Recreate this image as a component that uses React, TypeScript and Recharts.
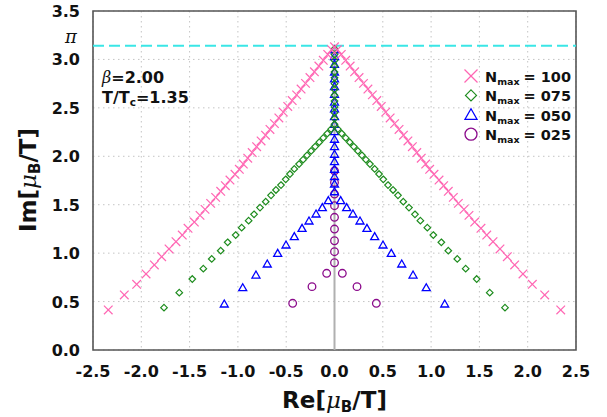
import {
  CartesianGrid,
  Legend,
  ReferenceArea,
  ReferenceLine,
  Scatter,
  ScatterChart,
  XAxis,
  YAxis,
} from 'recharts'

// tick values
const xTicks = [-2.5, -2, -1.5, -1, -0.5, 0, 0.5, 1, 1.5, 2, 2.5]
const yTicks = [0, 0.5, 1, 1.5, 2, 2.5, 3, 3.5]

// zeros on the two arms, [|Re|, Im]; each arm is drawn on both sides
const n100Arm = [
  [2.342, 0.413], [2.176, 0.568], [2.048, 0.678], [1.951, 0.785], [1.865, 0.878],
  [1.789, 0.963], [1.713, 1.043], [1.641, 1.118], [1.576, 1.187], [1.516, 1.256],
  [1.451, 1.321], [1.392, 1.39], [1.34, 1.452], [1.282, 1.514], [1.23, 1.576],
  [1.178, 1.638], [1.13, 1.696], [1.082, 1.755], [1.03, 1.814], [0.985, 1.866],
  [0.944, 1.92], [0.898, 1.98], [0.852, 2.039], [0.806, 2.099], [0.76, 2.158],
  [0.714, 2.218], [0.668, 2.277], [0.622, 2.337], [0.576, 2.396], [0.53, 2.456],
  [0.484, 2.515], [0.438, 2.575], [0.392, 2.634], [0.346, 2.694], [0.3, 2.753],
  [0.254, 2.813], [0.208, 2.872], [0.162, 2.932], [0.116, 2.991], [0.07, 3.051],
  [0.03, 3.1],
]
const n100Axis = [3.13]

const n075Arm = [
  [1.765, 0.437], [1.607, 0.592], [1.472, 0.733], [1.358, 0.84], [1.271, 0.94],
  [1.178, 1.025], [1.106, 1.112], [1.023, 1.187], [0.961, 1.263], [0.889, 1.335],
  [0.833, 1.401], [0.771, 1.47], [0.712, 1.531], [0.657, 1.597], [0.606, 1.652],
  [0.554, 1.703], [0.505, 1.762], [0.461, 1.817], [0.416, 1.869], [0.367, 1.92],
  [0.325, 1.965], [0.284, 2.01], [0.242, 2.055], [0.2, 2.1], [0.158, 2.145],
  [0.116, 2.19], [0.075, 2.235], [0.035, 2.28],
]
const n075Axis = [2.33, 2.39, 2.45, 2.51, 2.57, 2.63, 2.69, 2.75, 2.81, 2.87, 2.93, 2.99, 3.05, 3.11]

const n050Arm = [
  [1.141, 0.475], [0.95, 0.643], [0.813, 0.774], [0.696, 0.888], [0.588, 0.998],
  [0.502, 1.084], [0.416, 1.17], [0.336, 1.256], [0.264, 1.332], [0.191, 1.404],
  [0.126, 1.47], [0.064, 1.542],
]
const n050Axis = [
  1.634, 1.714, 1.789, 1.866, 1.945, 2.021, 2.099, 2.176, 2.254, 2.33,
  2.41, 2.49, 2.56, 2.64, 2.72, 2.8, 2.87, 2.95, 3.03, 3.1,
]

const n025Arm = [[0.433, 0.482], [0.233, 0.654], [0.081, 0.792]]
const n025Axis = [0.901, 1.015, 1.128, 1.249, 1.37, 1.49, 1.61, 1.73, 1.85]

const beta = '2.00'
const tOverTc = '1.35'

const PINK = '#ff66b3'
const GREEN = '#1e8c1e'
const BLUE = '#0000ff'
const PURPLE = '#8b0a8b'
const FONT = '"DejaVu Sans", sans-serif'
const SERIF = '"DejaVu Serif", serif'

const toPoints = (arm: number[][], axis: number[]) => [
  ...arm.map(([re, im]) => ({ re: -re, im })),
  ...arm.map(([re, im]) => ({ re, im })),
  ...axis.map((im) => ({ re: 0, im })),
]

const XMark = ({ cx, cy, s = 4.3 }: any) => (
  <g stroke={PINK} strokeWidth={1.2}>
    <line x1={cx - s} y1={cy - s} x2={cx + s} y2={cy + s} />
    <line x1={cx - s} y1={cy + s} x2={cx + s} y2={cy - s} />
  </g>
)
const Diamond = ({ cx, cy, s = 3.3 }: any) => (
  <path d={`M${cx},${cy - s}L${cx + s},${cy}L${cx},${cy + s}L${cx - s},${cy}Z`} fill="none" stroke={GREEN} strokeWidth={1.2} />
)
const Triangle = ({ cx, cy, s = 4 }: any) => (
  <path
    d={`M${cx},${cy - s}L${cx + s},${cy + s * 0.75}L${cx - s},${cy + s * 0.75}Z`}
    fill="none"
    stroke={BLUE}
    strokeWidth={1.3}
  />
)
const Circle = ({ cx, cy, s = 3.8 }: any) => <circle cx={cx} cy={cy} r={s} fill="none" stroke={PURPLE} strokeWidth={1.3} />

const series = [
  { label: '100', Shape: XMark, big: 6.5 },
  { label: '075', Shape: Diamond, big: 5.5 },
  { label: '050', Shape: Triangle, big: 6 },
  { label: '025', Shape: Circle, big: 6 },
]

function LegendBox() {
  return (
    <svg width={130} height={82} style={{ overflow: 'visible' }}>
      {series.map(({ label, Shape, big }, i) => {
        const y = 10 + i * 19.4
        return (
          <g key={label}>
            <Shape cx={9} cy={y} s={big} />
            <text x={23} y={y + 6} fontFamily={FONT} fontWeight="bold" fontSize={14.5} fill="#111">
              N
              <tspan fontSize={9.5} dy={3}>max</tspan>
              <tspan dy={-3} dx={4}>= {label}</tspan>
            </text>
          </g>
        )
      })}
    </svg>
  )
}

const MuTitle = ({ x, y, name, rotate }: any) => (
  <text
    x={x}
    y={y}
    transform={rotate ? `rotate(-90, ${x}, ${y})` : undefined}
    textAnchor="middle"
    fontFamily={FONT}
    fontWeight="bold"
    fontSize={23}
    fill="#111"
  >
    {name}[
    <tspan fontStyle="italic" fontFamily={SERIF} fontWeight="normal">μ</tspan>
    <tspan fontSize={15} dy={4}>B</tspan>
    <tspan dy={-4}>/T]</tspan>
  </text>
)

export default function App() {
  return (
    <div style={{ position: 'absolute', left: 0, top: 0, background: '#fff' }}>
      <ScatterChart width={607} height={417} margin={{ top: 11, right: 31, bottom: 0, left: 0 }}>
        <CartesianGrid stroke="#c4c4c4" strokeDasharray="1.5 3.5" />
        <XAxis
          type="number"
          dataKey="re"
          domain={[-2.5, 2.5]}
          ticks={xTicks}
          height={67}
          axisLine={false}
          tickLine={false}
          tickSize={0}
          tickMargin={0}
          interval={0}
          tick={({ x, y, payload }: any) => (
            <text x={x} y={y + 27} textAnchor="middle" fontFamily={FONT} fontWeight="bold" fontSize={16} fill="#111">
              {payload.value.toFixed(1)}
            </text>
          )}
          label={{
            content: ({ viewBox }: any) => <MuTitle x={viewBox.x + viewBox.width / 2} y={408} name="Re" />,
          }}
        />
        <YAxis
          type="number"
          dataKey="im"
          domain={[0, 3.5]}
          ticks={yTicks}
          width={93}
          axisLine={false}
          tickLine={false}
          tickSize={0}
          tickMargin={0}
          interval={0}
          tick={({ y, payload }: any) => (
            <text x={80} y={y + 6} textAnchor="end" fontFamily={FONT} fontWeight="bold" fontSize={16} fill="#111">
              {payload.value.toFixed(1)}
            </text>
          )}
          label={{ content: () => <MuTitle x={36} y={180} name="Im" rotate /> }}
        />
        <ReferenceLine segment={[{ x: 0, y: 0 }, { x: 0, y: Math.PI }]} stroke="#b0b0b0" strokeWidth={2} />
        <ReferenceLine
          y={Math.PI}
          stroke="#3ae6e6"
          strokeWidth={2}
          strokeDasharray="11 5"
          label={{
            content: ({ viewBox }: any) => (
              <text x={viewBox.x - 22} y={viewBox.y - 3} textAnchor="middle" fontFamily={SERIF} fontStyle="italic" fontSize={18} fill="#111">
                π
              </text>
            ),
          }}
        />
        <ReferenceArea
          x1={-2.5}
          x2={2.5}
          y1={0}
          y2={3.5}
          fill="none"
          stroke="#555"
          strokeWidth={1.6}
          label={{
            content: ({ viewBox }: any) => (
              <g fontFamily={FONT} fontWeight="bold" fontSize={16} fill="#111">
                <text x={viewBox.x + 9} y={83}>
                  <tspan fontStyle="italic" fontFamily={SERIF} fontWeight="normal">β</tspan>={beta}
                </text>
                <text x={viewBox.x + 9} y={103}>
                  T/T<tspan fontSize={10.5} dy={3}>c</tspan>
                  <tspan dy={-3}>={tOverTc}</tspan>
                </text>
              </g>
            ),
          }}
        />
        <Scatter data={toPoints(n025Arm, n025Axis)} shape={Circle} isAnimationActive={false} />
        <Scatter data={toPoints(n050Arm, n050Axis)} shape={Triangle} isAnimationActive={false} />
        <Scatter data={toPoints(n075Arm, n075Axis)} shape={Diamond} isAnimationActive={false} />
        <Scatter data={toPoints(n100Arm, n100Axis)} shape={XMark} isAnimationActive={false} />
        <Legend
          layout="horizontal"
          verticalAlign="middle"
          align="center"
          content={() => <LegendBox />}
          wrapperStyle={{ position: 'absolute', left: 462, top: 66, width: 130, height: 82 }}
        />
      </ScatterChart>
    </div>
  )
}
